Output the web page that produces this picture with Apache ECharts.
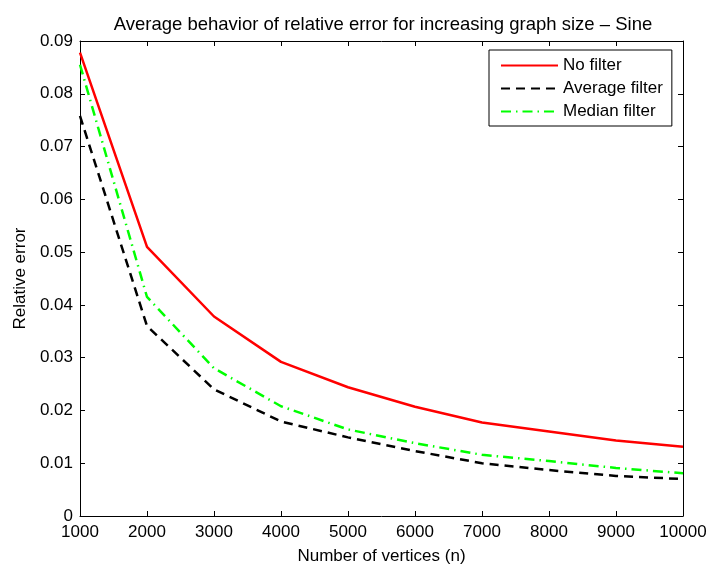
<!DOCTYPE html>
<html>
<head>
<meta charset="utf-8">
<script src="https://cdn.jsdelivr.net/npm/echarts@6/dist/echarts.min.js"></script>
<style>
html,body{margin:0;padding:0;background:#fff;}
#chart{width:714px;height:571px;}
</style>
</head>
<body>
<div id="chart"></div>
<script>
const vertices = [1000, 2000, 3000, 4000, 5000, 6000, 7000, 8000, 9000, 10000];
const noFilter = [0.0878, 0.0510, 0.0378, 0.0292, 0.0244, 0.0207, 0.0177, 0.0160, 0.0143, 0.0131];
const averageFilter = [0.0758, 0.0360, 0.0240, 0.0179, 0.0149, 0.0123, 0.0100, 0.0087, 0.0076, 0.0070];
const medianFilter = [0.0855, 0.0415, 0.0280, 0.0208, 0.0164, 0.0138, 0.0116, 0.0104, 0.0091, 0.0081];
const seriesNames = ['No filter', 'Average filter', 'Median filter'];
const titleText = 'Average behavior of relative error for increasing graph size \u2013 Sine';
const xName = 'Number of vertices (n)';
const yName = 'Relative error';

const FONT = '"Liberation Sans", Arial, Helvetica, sans-serif';
const pair = arr => vertices.map((x, i) => [x, arr[i]]);

const chart = echarts.init(document.getElementById('chart'));
const gridBox = {left: 80, right: 31, top: 41, bottom: 55};
const tickIn = {show: true, inside: true, length: 5, lineStyle: {color: '#000'}};
const lineStyleAxis = {show: true, onZero: false, lineStyle: {color: '#000', width: 1}};
const baseX = {
  type: 'value', min: 1000, max: 10000, interval: 1000,
  axisLine: lineStyleAxis,
  axisTick: tickIn,
  splitLine: {show: false}
};
const baseY = {
  type: 'value', min: 0, max: 0.09, interval: 0.01,
  axisLine: lineStyleAxis,
  axisTick: tickIn,
  splitLine: {show: false}
};
chart.setOption({
  animation: false,
  backgroundColor: '#fff',
  title: {
    text: titleText,
    left: 378, top: 10, textAlign: 'center',
    textStyle: {fontFamily: FONT, fontSize: 18.5, fontWeight: 'normal', color: '#000'}
  },
  grid: gridBox,
  legend: {
    orient: 'vertical',
    left: 489, top: 50,
    padding: [7, 9, 6, 11],
    itemGap: 6,
    itemWidth: 57, itemHeight: 14,
    backgroundColor: '#fff',
    borderColor: '#000', borderWidth: 1, borderRadius: 0,
    itemStyle: {color: 'rgba(0,0,0,0)', borderWidth: 0, opacity: 0},
    textStyle: {fontFamily: FONT, fontSize: 17, color: '#000'},
    data: seriesNames
  },
  xAxis: [
    Object.assign({}, baseX, {
      position: 'bottom',
      name: xName, nameLocation: 'middle', nameGap: 32,
      nameTextStyle: {fontFamily: FONT, fontSize: 17, color: '#000'},
      axisLabel: {show: true, margin: 8, fontFamily: FONT, fontSize: 17, color: '#000',
        formatter: v => String(Math.round(v))}
    }),
    Object.assign({}, baseX, {position: 'top', axisLabel: {show: false}})
  ],
  yAxis: [
    Object.assign({}, baseY, {
      position: 'left',
      name: yName, nameLocation: 'middle', nameGap: 51,
      nameTextStyle: {fontFamily: FONT, fontSize: 17, color: '#000'},
      axisLabel: {show: true, margin: 7, fontFamily: FONT, fontSize: 17, color: '#000',
        formatter: v => (Math.abs(v) < 1e-9 ? '0' : v.toFixed(2))}
    }),
    Object.assign({}, baseY, {position: 'right', axisLabel: {show: false}})
  ],
  series: [
    {name: seriesNames[0], type: 'line', data: pair(noFilter), symbol: 'none',
      lineStyle: {color: '#ff0000', width: 2.5, type: 'solid'}, itemStyle: {color: '#ff0000'}, z: 3},
    {name: seriesNames[1], type: 'line', data: pair(averageFilter), symbol: 'none',
      lineStyle: {color: '#000000', width: 2.5, type: [9, 6]}, itemStyle: {color: '#000000'}, z: 2},
    {name: seriesNames[2], type: 'line', data: pair(medianFilter), symbol: 'none',
      lineStyle: {color: '#00ff00', width: 2.5, type: [10, 5, 1.5, 5]}, itemStyle: {color: '#00ff00'}, z: 2}
  ]
});
</script>
</body>
</html>
